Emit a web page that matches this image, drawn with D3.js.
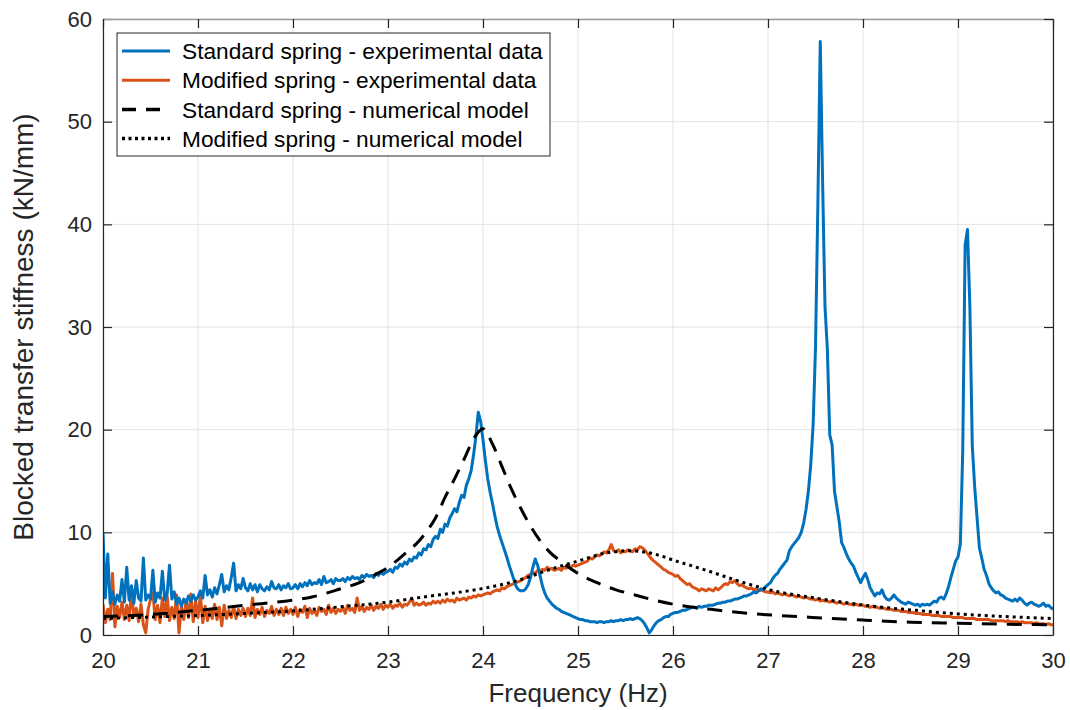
<!DOCTYPE html>
<html>
<head>
<meta charset="utf-8">
<script src="https://cdn.jsdelivr.net/npm/d3@7"></script>
<style>
  body { margin: 0; background: #fff; }
  svg { font-family: "Liberation Sans", Arial, sans-serif; }
</style>
</head>
<body>
<div id="chart"></div>
<script>
// experimental data, sampled every 0.025 Hz from 20 Hz (one row = 0.5 Hz)
const expStart = 20;
const expStep = 0.025;

const standardExp = [
  9.9, 3.6, 7.9, 3.1, 4.2, 3.0, 3.9, 3.3, 5.4, 3.2, 6.6, 3.4, 4.8, 3.1, 5.3, 3.6, 3.3, 7.5, 3.4, 3.9,
  3.5, 6.3, 3.2, 4.1, 3.6, 6.2, 3.4, 4.0, 6.8, 3.5, 4.2, 3.0, 3.6, 2.8, 3.5, 3.1, 3.8, 3.3, 3.9, 3.4,
  3.7, 4.3, 3.6, 5.8, 3.9, 4.4, 3.7, 4.6, 4.0, 4.9, 5.9, 4.2, 4.8, 4.4, 5.6, 7.0, 4.3, 4.9, 4.5, 5.5,
  4.6, 4.3, 5.0, 4.4, 4.9, 4.2, 4.9, 4.5, 4.3, 4.7, 4.4, 5.2, 4.6, 4.5, 4.9, 4.4, 4.8, 4.6, 5.0, 4.5,
  4.6, 4.9, 4.5, 5.0, 4.7, 5.1, 4.8, 5.3, 4.9, 5.1, 5.0, 5.4, 4.9, 5.7, 5.1, 5.2, 5.4, 5.0, 5.5, 5.3,
  5.3, 5.5, 5.2, 5.6, 5.4, 5.7, 5.5, 5.6, 5.4, 5.8, 5.6, 5.9, 5.7, 5.8, 5.6, 6.0, 5.8, 6.1, 5.9, 6.1,
  6.2, 6.4, 6.1, 6.6, 6.5, 6.9, 6.7, 7.1, 6.9, 7.4, 7.2, 7.6, 7.5, 8.0, 7.8, 8.4, 8.3, 8.8, 8.6, 9.3,
  9.6, 9.4, 10.3, 10.0, 10.8, 10.6, 11.4, 11.8, 12.3, 12.0, 12.9, 13.6, 13.4, 14.6, 15.2, 16.0, 17.5, 19.3, 21.7, 20.8,
  19.0, 17.0, 15.2, 13.9, 12.8, 11.6, 10.5, 9.7, 9.0, 8.3, 7.6, 6.8, 6.1, 5.4, 4.7, 4.4, 4.3, 4.3, 4.5, 4.9,
  5.6, 6.6, 7.4, 6.8, 5.8, 4.8, 4.1, 3.6, 3.3, 3.0, 2.8, 2.6, 2.5, 2.3, 2.2, 2.1, 2.0, 1.9, 1.8, 1.7,
  1.6, 1.5, 1.5, 1.4, 1.4, 1.3, 1.3, 1.3, 1.2, 1.3, 1.3, 1.2, 1.3, 1.3, 1.4, 1.3, 1.4, 1.4, 1.5, 1.4,
  1.5, 1.5, 1.6, 1.5, 1.6, 1.7, 1.6, 1.4, 1.1, 0.7, 0.2, 0.5, 0.9, 1.2, 1.4, 1.5, 1.7, 1.8, 1.8, 2.0,
  2.1, 2.2, 2.2, 2.3, 2.4, 2.4, 2.5, 2.6, 2.7, 2.7, 2.6, 2.8, 2.7, 2.8, 2.8, 2.9, 2.9, 2.9, 3.0, 3.1,
  3.1, 3.2, 3.2, 3.3, 3.3, 3.4, 3.5, 3.5, 3.6, 3.7, 3.8, 3.8, 3.9, 4.0, 4.2, 4.1, 4.3, 4.5, 4.4, 4.7,
  4.9, 5.1, 5.5, 5.8, 6.0, 6.4, 6.7, 7.0, 7.3, 8.2, 8.6, 8.9, 9.2, 9.5, 10.0, 10.9, 12.2, 14.0, 16.6, 20.5,
  28.0, 42.0, 57.8, 44.0, 32.0, 27.8, 19.5, 18.5, 14.0, 12.5, 11.0, 9.0, 8.5, 7.9, 7.4, 7.0, 6.7, 6.1, 5.6, 5.1,
  5.6, 6.0, 5.4, 4.6, 4.2, 3.8, 4.1, 4.0, 4.4, 3.8, 3.5, 3.4, 3.6, 3.9, 3.6, 3.4, 3.2, 3.1, 3.0, 3.2,
  3.1, 3.0, 2.9, 3.0, 2.8, 3.0, 2.9, 3.0, 2.9, 3.1, 3.3, 3.2, 3.6, 3.7, 3.5, 4.0, 4.7, 5.6, 6.4, 7.2,
  7.6, 8.9, 18.0, 38.0, 39.5, 32.0, 18.5, 14.5, 11.5, 8.5, 7.5, 6.4, 5.8, 5.0, 4.6, 4.3, 4.1, 4.2, 3.9, 3.8,
  3.6, 3.5, 3.4, 3.3, 3.5, 3.3, 3.6, 3.4, 3.1, 2.9, 3.1, 3.2, 3.0, 2.9, 2.8, 2.9, 3.1, 2.8, 2.9, 2.7,
  2.5
];

const modifiedExp = [
  3.0, 1.2, 2.5, 1.5, 6.0, 0.8, 2.8, 1.7, 3.2, 1.5, 2.9, 1.4, 4.4, 1.8, 2.6, 1.3, 3.0, 1.0, 0.2, 2.5,
  3.5, 4.1, 1.5, 2.9, 1.2, 3.6, 1.8, 3.8, 1.4, 2.7, 1.6, 3.9, 0.2, 2.8, 1.5, 3.4, 1.7, 4.0, 1.3, 3.3,
  1.7, 3.9, 1.2, 2.8, 1.4, 2.5, 1.6, 3.0, 1.5, 2.7, 0.9, 2.9, 1.6, 2.4, 1.7, 2.8, 1.6, 2.5, 1.9, 2.6,
  1.8, 2.6, 1.9, 3.6, 1.7, 2.5, 2.0, 2.7, 1.8, 2.4, 2.1, 2.8, 1.9, 2.5, 2.0, 2.6, 1.9, 2.7, 2.1, 2.5,
  2.0, 2.7, 1.8, 2.5, 2.2, 2.8, 1.7, 2.6, 2.1, 2.4, 1.9, 2.7, 2.3, 2.5, 2.0, 2.9, 2.2, 2.6, 2.1, 2.5,
  2.3, 2.7, 2.1, 2.9, 2.4, 2.6, 2.2, 3.6, 2.4, 2.8, 2.3, 2.7, 2.5, 2.9, 2.4, 2.8, 2.6, 3.0, 2.5, 2.9,
  2.7, 3.0, 2.6, 2.9, 2.8, 3.1, 2.7, 3.0, 2.9, 3.2, 3.6, 2.9, 3.1, 2.9, 3.0, 3.2, 2.9, 3.1, 3.0, 3.3,
  3.1, 3.3, 3.1, 3.4, 3.2, 3.5, 3.3, 3.4, 3.2, 3.6, 3.4, 3.5, 3.6, 3.4, 3.7, 3.6, 3.8, 3.7, 3.9, 3.8,
  3.9, 4.0, 4.1, 4.0, 4.2, 4.3, 4.4, 4.3, 4.6, 4.5, 4.7, 4.8, 4.9, 5.0, 5.1, 5.2, 5.3, 5.5, 5.6, 5.8,
  5.9, 6.1, 6.0, 6.3, 6.2, 6.4, 6.3, 6.6, 6.4, 6.5, 6.3, 6.4, 6.5, 6.3, 6.6, 6.5, 6.7, 6.6, 6.8, 6.7,
  6.8, 6.9, 7.0, 7.1, 7.2, 7.5, 7.4, 7.6, 7.8, 7.7, 7.9, 8.1, 8.0, 8.3, 8.8, 8.2, 8.1, 8.3, 8.0, 8.2,
  8.1, 8.3, 8.2, 8.1, 8.4, 8.3, 8.6, 8.5, 8.3, 8.0, 7.7, 7.4, 7.2, 7.0, 6.8, 6.6, 6.4, 6.3, 6.1, 6.0,
  5.9, 5.7, 5.8, 5.5, 5.3, 5.1, 4.9, 5.0, 4.7, 4.6, 4.5, 4.3, 4.5, 4.4, 4.3, 4.5, 4.4, 4.3, 4.6, 4.4,
  4.6, 4.8, 5.0, 4.9, 5.2, 5.1, 5.3, 5.0, 4.8, 4.9, 4.7, 4.6, 4.5, 4.6, 4.4, 4.5, 4.3, 4.4, 4.3, 4.2,
  4.2, 4.1, 4.2, 4.0, 4.1, 4.0, 3.9, 4.0, 3.9, 3.8, 3.9, 3.8, 3.7, 3.8, 3.7, 3.6, 3.7, 3.6, 3.5, 3.5,
  3.4, 3.5, 3.3, 3.4, 3.3, 3.3, 3.2, 3.3, 3.2, 3.1, 3.2, 3.1, 3.0, 3.1, 3.0, 3.0, 2.9, 3.0, 2.9, 2.9,
  2.9, 2.8, 2.8, 2.7, 2.8, 2.7, 2.7, 2.6, 2.6, 2.6, 2.5, 2.5, 2.5, 2.4, 2.4, 2.4, 2.3, 2.3, 2.3, 2.2,
  2.2, 2.2, 2.1, 2.1, 2.1, 2.0, 2.0, 2.0, 2.0, 1.9, 1.9, 1.9, 1.9, 1.8, 1.8, 1.8, 1.8, 1.8, 1.7, 1.7,
  1.7, 1.7, 1.7, 1.6, 1.6, 1.6, 1.6, 1.6, 1.5, 1.5, 1.5, 1.5, 1.5, 1.5, 1.4, 1.4, 1.4, 1.4, 1.4, 1.4,
  1.3, 1.4, 1.3, 1.3, 1.3, 1.3, 1.2, 1.3, 1.2, 1.2, 1.2, 1.2, 1.1, 1.2, 1.1, 1.1, 1.1, 1.0, 1.1, 1.0,
  1.0
];

// numerical models, [frequency, stiffness]
const standardModel = [
  [20.0, 1.8], [20.5, 2.0], [21.0, 2.4], [21.5, 2.9], [22.0, 3.4], [22.2, 3.7], [22.5, 4.5],
  [22.7, 5.1], [22.85, 5.8], [23.0, 6.6], [23.1, 7.3], [23.2, 8.1], [23.3, 8.9], [23.4, 10.0],
  [23.5, 11.4], [23.6, 13.4], [23.7, 15.2], [23.8, 17.1], [23.9, 19.1], [24.0, 20.1], [24.1, 18.6],
  [24.2, 16.4], [24.3, 14.2], [24.4, 12.3], [24.5, 10.6], [24.6, 9.2], [24.7, 8.1], [24.8, 7.3],
  [25.0, 6.0], [25.2, 5.1], [25.4, 4.4], [25.6, 3.9], [25.8, 3.4], [26.0, 3.0], [26.4, 2.5],
  [26.8, 2.1], [27.2, 1.85], [27.6, 1.65], [28.0, 1.45], [28.5, 1.25], [29.0, 1.15], [29.5, 1.05],
  [30.0, 1.0]
];

const modifiedModel = [
  [20.0, 1.6], [20.5, 1.75], [21.0, 1.9], [21.5, 2.1], [22.0, 2.35], [22.5, 2.75], [23.0, 3.2],
  [23.37, 3.7], [23.7, 4.1], [24.04, 4.6], [24.4, 5.4], [24.71, 6.4], [25.0, 7.2], [25.3, 8.0],
  [25.55, 8.2], [25.8, 7.9], [26.0, 7.3], [26.35, 6.3], [26.71, 5.2], [27.06, 4.3], [27.5, 3.6],
  [27.86, 3.1], [28.2, 2.7], [28.56, 2.4], [29.0, 2.05], [29.27, 1.9], [29.6, 1.75], [30.0, 1.6]
];

const xTicks = [20, 21, 22, 23, 24, 25, 26, 27, 28, 29, 30];
const yTicks = [0, 10, 20, 30, 40, 50, 60];

const legendLabels = [
  "Standard spring - experimental data",
  "Modified spring - experimental data",
  "Standard spring - numerical model",
  "Modified spring - numerical model"
];

const fullWidth = 1070, fullHeight = 710;
const margin = { top: 19, right: 17, bottom: 75, left: 103 };
const width = fullWidth - margin.left - margin.right;
const height = fullHeight - margin.top - margin.bottom;

const svg = d3.select("#chart").append("svg")
    .attr("width", fullWidth)
    .attr("height", fullHeight)
  .append("g")
    .attr("transform", `translate(${margin.left},${margin.top})`);

const x = d3.scaleLinear().domain([20, 30]).range([0, width]);
const y = d3.scaleLinear().domain([0, 60]).range([height, 0]);

// grid
svg.append("g")
  .selectAll("line")
  .data(xTicks)
  .join("line")
    .attr("x1", d => x(d)).attr("x2", d => x(d))
    .attr("y1", 0).attr("y2", height)
    .attr("stroke", "#e3e3e3").attr("stroke-width", 1);
svg.append("g")
  .selectAll("line")
  .data(yTicks)
  .join("line")
    .attr("x1", 0).attr("x2", width)
    .attr("y1", d => y(d)).attr("y2", d => y(d))
    .attr("stroke", "#e3e3e3").attr("stroke-width", 1);

svg.append("clipPath").attr("id", "clip")
  .append("rect").attr("width", width).attr("height", height);

const plot = svg.append("g").attr("clip-path", "url(#clip)");

const toPairs = vals => vals.map((v, i) => [expStart + i * expStep, v]);

const line = d3.line().x(d => x(d[0])).y(d => y(d[1]));
const smooth = d3.line().x(d => x(d[0])).y(d => y(d[1])).curve(d3.curveMonotoneX);

plot.append("path").datum(toPairs(modifiedExp))
  .attr("fill", "none").attr("stroke", "#D95319").attr("stroke-width", 3)
  .attr("stroke-linejoin", "round").attr("d", line);
plot.append("path").datum(toPairs(standardExp))
  .attr("fill", "none").attr("stroke", "#0072BD").attr("stroke-width", 3)
  .attr("stroke-linejoin", "round").attr("d", line);
plot.append("path").datum(standardModel)
  .attr("fill", "none").attr("stroke", "#000").attr("stroke-width", 3)
  .attr("stroke-dasharray", "15,10").attr("d", smooth);
plot.append("path").datum(modifiedModel)
  .attr("fill", "none").attr("stroke", "#000").attr("stroke-width", 3)
  .attr("stroke-dasharray", "3,4").attr("d", smooth);

// axes
const axisColor = "#262626";
svg.append("g")
  .attr("transform", `translate(0,${height})`)
  .call(d3.axisBottom(x).tickValues(xTicks).tickSizeInner(-9).tickSizeOuter(0).tickPadding(17));
svg.append("g")
  .call(d3.axisLeft(y).tickValues(yTicks).tickSizeInner(-9).tickSizeOuter(0).tickPadding(11));
svg.append("g")
  .attr("class", "top-axis")
  .call(d3.axisTop(x).tickValues(xTicks).tickSizeInner(-9).tickSizeOuter(0).tickFormat(""));
svg.append("g")
  .attr("transform", `translate(${width},0)`)
  .call(d3.axisRight(y).tickValues(yTicks).tickSizeInner(-9).tickSizeOuter(0).tickFormat(""));

svg.selectAll(".domain").attr("stroke", axisColor).attr("stroke-width", 1.2);
svg.select(".top-axis .domain").attr("stroke", "#9a9a9a").attr("stroke-width", 1.5);
svg.selectAll(".tick line").attr("stroke", axisColor).attr("stroke-width", 1.2);
svg.selectAll(".tick text")
  .attr("fill", axisColor)
  .style("font-size", "22px")
  .style("font-family", "'Liberation Sans', Arial, sans-serif");

svg.append("text")
  .attr("x", width / 2)
  .attr("y", height + 67)
  .attr("text-anchor", "middle")
  .attr("fill", axisColor)
  .style("font-size", "26px")
  .text("Frequency (Hz)");

svg.append("text")
  .attr("transform", "rotate(-90)")
  .attr("x", -height / 2)
  .attr("y", -70)
  .attr("text-anchor", "middle")
  .attr("fill", axisColor)
  .style("font-size", "28px")
  .text("Blocked transfer stiffness (kN/mm)");

// legend
const legend = svg.append("g").attr("transform", "translate(14,14)");
legend.append("rect")
  .attr("width", 433).attr("height", 123)
  .attr("fill", "#fff").attr("stroke", "#262626").attr("stroke-width", 1);

const legendStyles = [
  { color: "#0072BD", dash: null, w: 3 },
  { color: "#D95319", dash: null, w: 3 },
  { color: "#000", dash: "14,10", w: 3.5 },
  { color: "#000", dash: "3,3.5", w: 3.5 }
];

const rows = legend.selectAll(".row")
  .data(legendLabels)
  .join("g")
    .attr("class", "row")
    .attr("transform", (d, i) => `translate(0,${18 + i * 29.2})`);

rows.append("line")
  .attr("x1", 5).attr("x2", 53)
  .attr("stroke", (d, i) => legendStyles[i].color)
  .attr("stroke-width", (d, i) => legendStyles[i].w)
  .attr("stroke-dasharray", (d, i) => legendStyles[i].dash);

rows.append("text")
  .attr("x", 65)
  .attr("dy", "0.36em")
  .attr("fill", "#000")
  .style("font-size", "22.7px")
  .text(d => d);
</script>
</body>
</html>
